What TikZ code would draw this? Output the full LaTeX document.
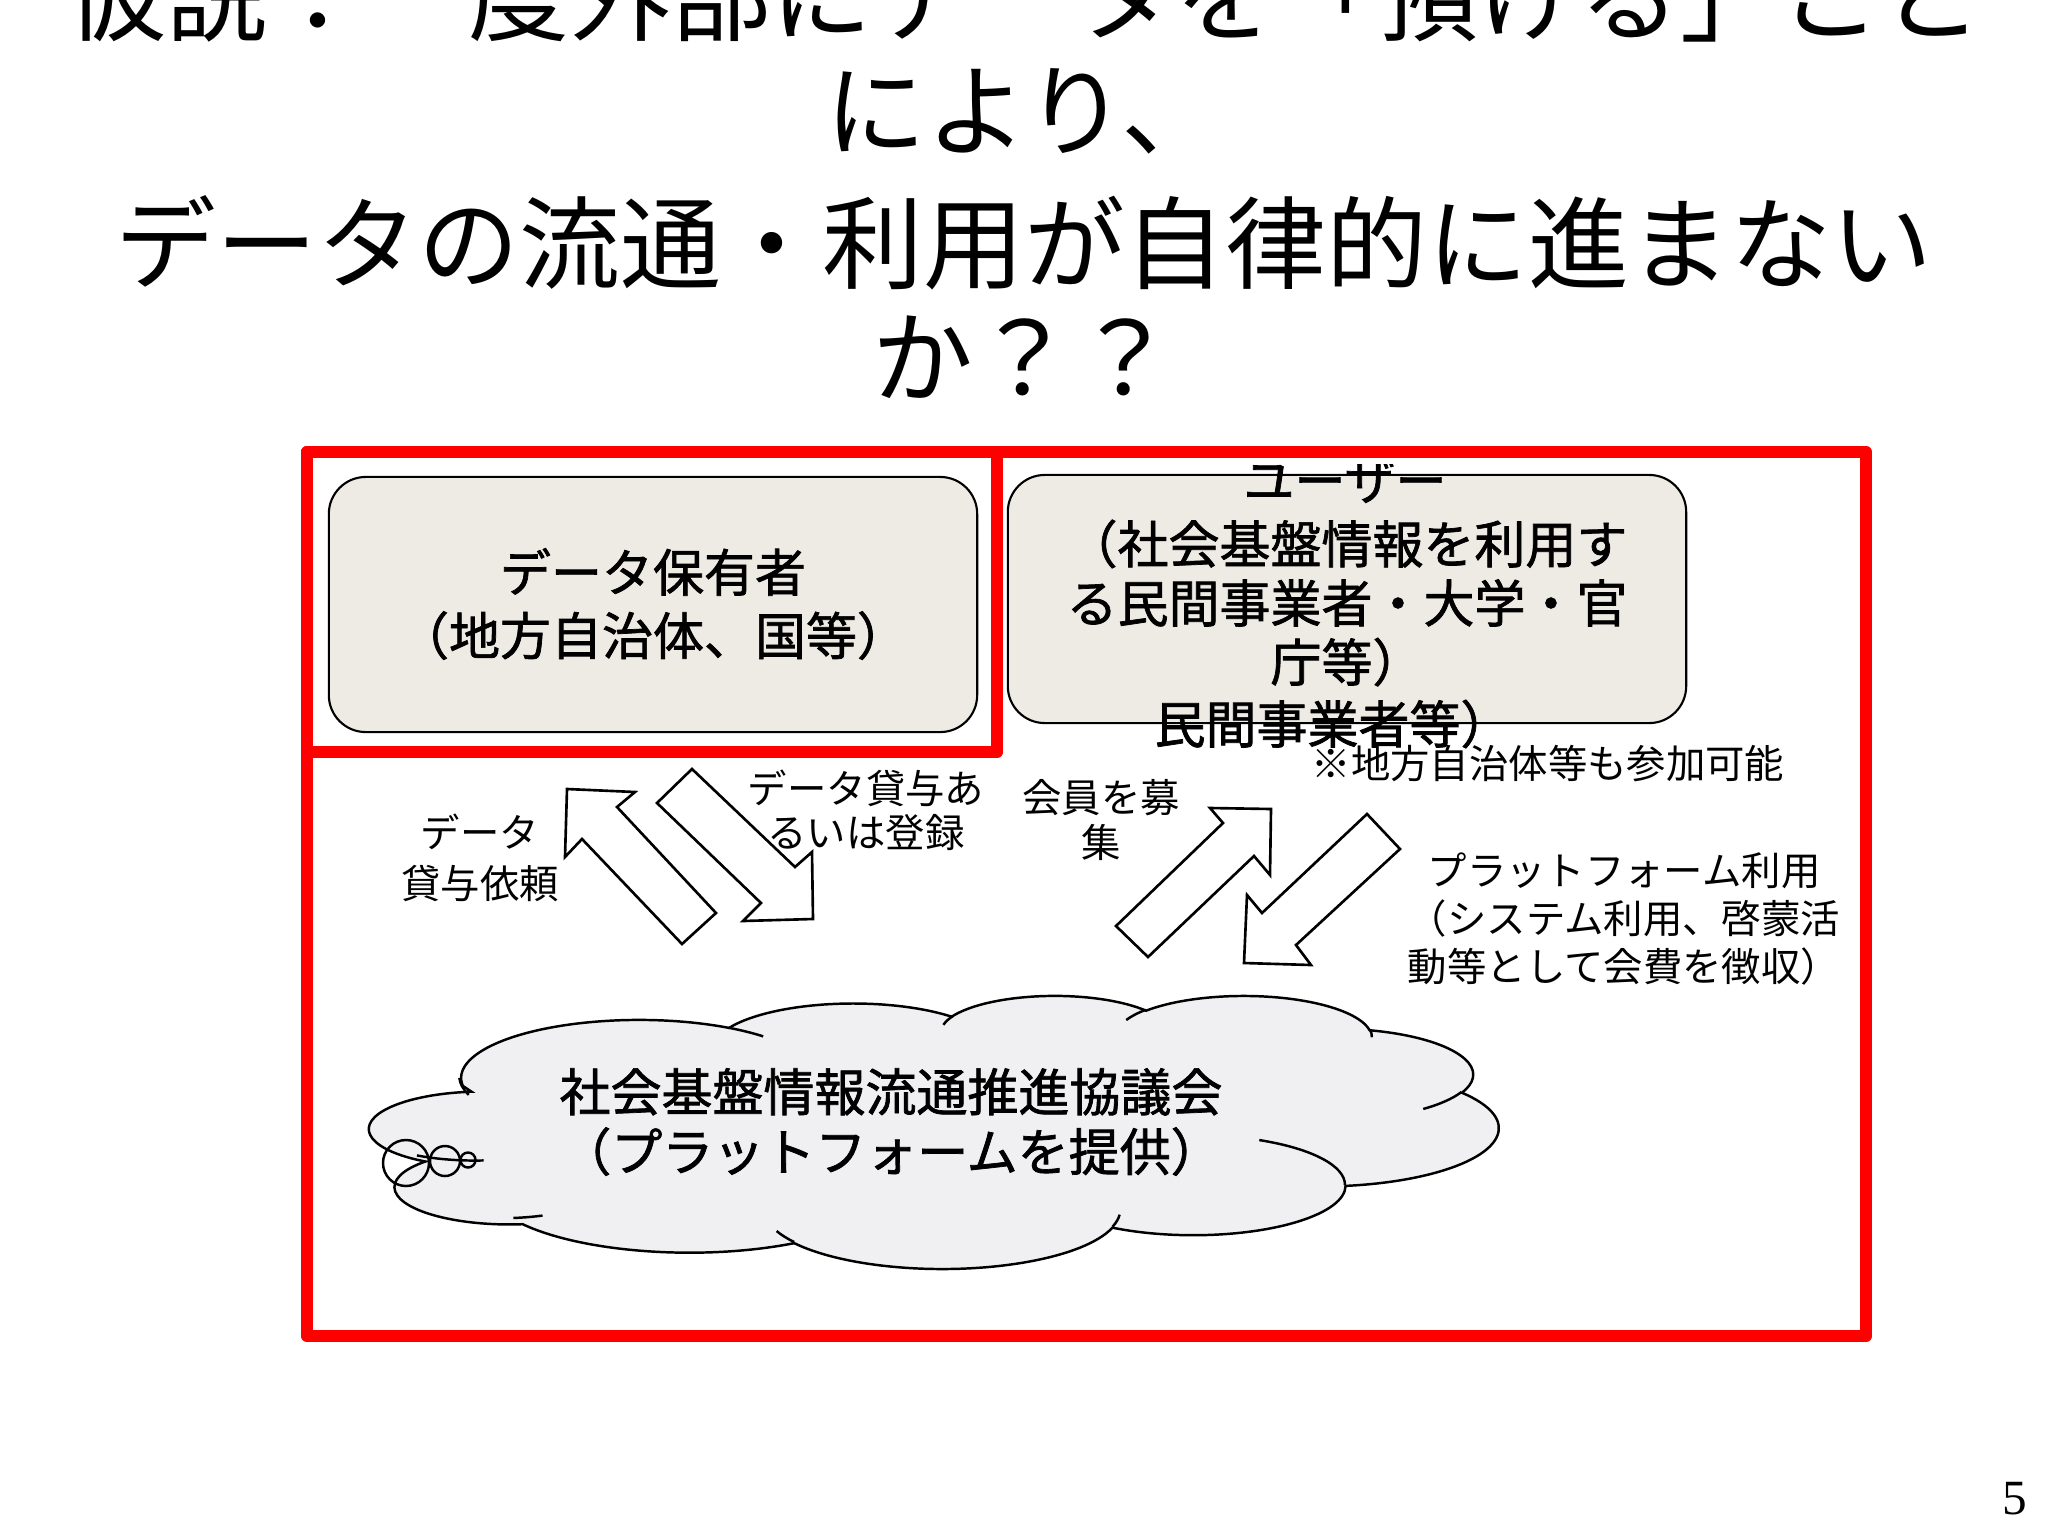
\documentclass[tikz,border=0pt]{standalone}
\usepackage{fontspec}
\newfontfamily\jp{Noto Sans CJK JP}
\newfontfamily\jpb{Noto Sans CJK JP}[FakeBold=1.4]
\newfontfamily\numfont{Liberation Serif}
\definecolor{boxfill}{RGB}{238,235,228}
\definecolor{cloudfill}{RGB}{240,240,243}
\definecolor{framered}{RGB}{255,0,0}
% DrawingML arcTo (visual angles) -> TikZ parametric angles
\newcommand\ooprep[5]{%
  \pgfmathsetmacro\ootmpa{atan2((#2)*sin(#4),(#3)*cos(#4))}%
  \pgfmathsetmacro\ootmpb{atan2((#2)*sin((#4)+(#5)),(#3)*cos((#4)+(#5)))}%
  \pgfmathsetmacro\ootmpd{mod(\ootmpb-\ootmpa+720,360)}%
  \expandafter\xdef\csname oo#1t\endcsname{\ootmpa}%
  \expandafter\xdef\csname oo#1d\endcsname{\ootmpd}%
}
\begin{document}
\begin{tikzpicture}[x=0.01cm,y=-0.01cm,
  box/.style={draw=black, line width=0.6pt, fill=boxfill, rounded corners=0.37cm, inner sep=0pt},
  redframe/.style={draw=framered, line width=0.125cm, line join=round},
  blockarrow/.style={draw=black, fill=white, line width=0.75pt, line join=miter},
  cloudline/.style={draw=black, line width=0.7pt},
  title/.style={font=\jp\fontsize{28.7}{34}\selectfont, inner sep=0pt},
  boxtext/.style={font=\jpb\fontsize{14.5}{18}\selectfont, align=center, inner sep=0pt},
  cloudtext/.style={font=\jpb\fontsize{14.5}{17}\selectfont, align=center, inner sep=0pt},
  lbl/.style={font=\jp\fontsize{11.2}{13}\selectfont, align=center, inner sep=0pt}]
\useasboundingbox (0,0) rectangle (2048,1536);

% ---------- title ----------
\node[title] (t1) at (1024,-5) {仮説：一度外部にデータを「預ける」こと};
\node[title] (t2) at (1024,111) {により、};
\node[title] (t3) at (1024,243) {データの流通・利用が自律的に進まない};
\node[title] (t4) at (1024,357) {か？？};

% ---------- boxes ----------
\node[box, minimum width=6.48cm, minimum height=2.55cm] (holder) at (653,604.5) {};
\node[boxtext] (holdertxt) at (653,604) {データ保有者\\（地方自治体、国等）};

\node[box, minimum width=6.78cm, minimum height=2.48cm] (user) at (1347,599) {};
\begin{scope}
  \clip (1000,464) rectangle (1700,540);
  \node[boxtext] (usertitle) at (1345,481) {ユーザー};
\end{scope}
\node[boxtext, font=\jpb\fontsize{14.5}{16.8}\selectfont] (usertxt) at (1347,603)
  {（社会基盤情報を利用す\\る民間事業者・大学・官\\庁等）};
\node[boxtext] (userextra) at (1333,724) {民間事業者等）};

% ---------- block arrows ----------
\draw[blockarrow] (567,789) -- (635,792) -- (617,807) -- (716,913) -- (682,944) -- (582,839) -- (565,857) -- cycle;
\draw[blockarrow] (692,769) -- (795,867) -- (812,852) -- (813,919) -- (743,921) -- (761,903) -- (657,803) -- cycle;
\draw[blockarrow] (1210,808) -- (1271,809) -- (1270,875) -- (1254,856) -- (1148,957) -- (1116,926) -- (1223,823) -- cycle;
\draw[blockarrow] (1367,814) -- (1400,849) -- (1296,945) -- (1311,965) -- (1244,963) -- (1247,895) -- (1262,913) -- cycle;

% ---------- labels ----------
\node[lbl, font=\jp\fontsize{11.2}{14.5}\selectfont] (lreq) at (480,858) {データ\\貸与依頼};
\node[lbl, font=\jp\fontsize{11.2}{12.6}\selectfont] (llend) at (866,810) {データ貸与あ\\るいは登録};
\node[lbl, font=\jp\fontsize{11.2}{12.8}\selectfont] (lmember) at (1101,820) {会員を募\\集};
\node[lbl] (lnote) at (1548,764) {※地方自治体等も参加可能};
\node[lbl, font=\jp\fontsize{11.2}{13.6}\selectfont] (lplat) at (1624,919)
  {プラットフォーム利用\\（システム利用、啓蒙活\\動等として会費を徴収）};

% ---------- cloud ----------
\ooprep{A}{67.53}{91.90}{-190.4875}{123.7805}
\ooprep{B}{53.33}{72.67}{-144.1024}{89.9452}
\ooprep{C}{43.65}{59.45}{-145.8079}{99.7230}
\ooprep{D}{48.57}{65.95}{-130.9861}{117.2417}
\ooprep{E}{53.33}{72.73}{-78.7089}{109.0269}
\ooprep{F}{67.75}{92.20}{-46.2673}{130.2690}
\ooprep{G}{57.85}{78.67}{0.6250}{114.0333}
\ooprep{H}{67.52}{92.15}{22.4516}{115.1726}
\ooprep{I}{77.20}{105.43}{66.2426}{70.1117}
\ooprep{J}{43.60}{59.18}{-274.9421}{146.7356}
\ooprep{K}{43.45}{59.45}{-246.8285}{152.5189}
\ooprep{L}{43.45}{59.45}{86.7420}{26.4295}
\ooprep{M}{43.60}{59.18}{73.6105}{11.4475}
\ooprep{N}{67.52}{92.15}{137.6242}{14.0811}
\ooprep{O}{67.52}{92.15}{6.4533}{15.9984}
\ooprep{P}{57.85}{78.67}{-70.2924}{70.9174}
\ooprep{Q}{53.33}{72.73}{30.3180}{27.7515}
\ooprep{R}{48.57}{65.95}{-13.7443}{14.8547}
\ooprep{S}{48.57}{65.95}{-149.1815}{18.1916}
\ooprep{T}{43.65}{59.45}{-163.4943}{17.6999}
\ooprep{U}{67.53}{91.90}{-66.7070}{12.3194}
\ooprep{V}{67.53}{91.90}{155.1443}{22.3025}
\begin{scope}[shift={(360,995)}, xscale=2.635, yscale=0.632]
  \draw[cloudline, fill=cloudfill] (39,143.7)
    arc[start angle=\ooAt, delta angle=\ooAd, x radius=67.53, y radius=91.90]
    arc[start angle=\ooBt, delta angle=\ooBd, x radius=53.33, y radius=72.67]
    arc[start angle=\ooCt, delta angle=\ooCd, x radius=43.65, y radius=59.45]
    arc[start angle=\ooDt, delta angle=\ooDd, x radius=48.57, y radius=65.95]
    arc[start angle=\ooEt, delta angle=\ooEd, x radius=53.33, y radius=72.73]
    arc[start angle=\ooFt, delta angle=\ooFd, x radius=67.75, y radius=92.20]
    arc[start angle=\ooGt, delta angle=\ooGd, x radius=57.85, y radius=78.67]
    arc[start angle=\ooHt, delta angle=\ooHd, x radius=67.52, y radius=92.15]
    arc[start angle=\ooIt, delta angle=\ooId, x radius=77.20, y radius=105.43]
    arc[start angle=\ooJt, delta angle=\ooJd, x radius=43.60, y radius=59.18]
    arc[start angle=\ooKt, delta angle=\ooKd, x radius=43.45, y radius=59.45]
    -- cycle;
  \draw[cloudline]
    (46.93,261.77) arc[start angle=\ooLt, delta angle=\ooLd, x radius=43.45, y radius=59.45]
    (69.28,348.99) arc[start angle=\ooMt, delta angle=\ooMd, x radius=43.60, y radius=59.18]
    (164.78,390.90) arc[start angle=\ooNt, delta angle=\ooNd, x radius=67.52, y radius=92.15]
    (288.27,347.51) arc[start angle=\ooOt, delta angle=\ooOd, x radius=67.52, y radius=92.15]
    (341.29,229.54) arc[start angle=\ooPt, delta angle=\ooPd, x radius=57.85, y radius=78.67]
    (417.98,153.54) arc[start angle=\ooQt, delta angle=\ooQd, x radius=53.33, y radius=72.73]
    (383.24,54.26) arc[start angle=\ooRt, delta angle=\ooRd, x radius=48.57, y radius=65.95]
    (290.78,39.52) arc[start angle=\ooSt, delta angle=\ooSd, x radius=48.57, y radius=65.95]
    (221.41,47.20) arc[start angle=\ooTt, delta angle=\ooTd, x radius=43.65, y radius=59.45]
    (140.00,51.92) arc[start angle=\ooUt, delta angle=\ooUd, x radius=67.53, y radius=91.90]
    (41.27,157.89) arc[start angle=\ooVt, delta angle=\ooVd, x radius=67.53, y radius=91.90];
\end{scope}
% thought-bubble circles
\draw[cloudline] (406,1163) circle[radius=23];
\draw[cloudline] (445,1161) circle[radius=15];
\draw[cloudline] (468,1160) circle[radius=7.5];
\node[cloudtext] (cloudtxt) at (891,1122) {社会基盤情報流通推進協議会\\（プラットフォームを提供）};

% ---------- red frames ----------
\draw[redframe] (307,452) rectangle (1866,1336);
\draw[redframe] (307,452) rectangle (997,752);

% ---------- page number ----------
\node[font=\numfont\fontsize{14}{14}\selectfont, inner sep=0pt] (pg) at (2015,1499) {5};
\end{tikzpicture}
\end{document}
